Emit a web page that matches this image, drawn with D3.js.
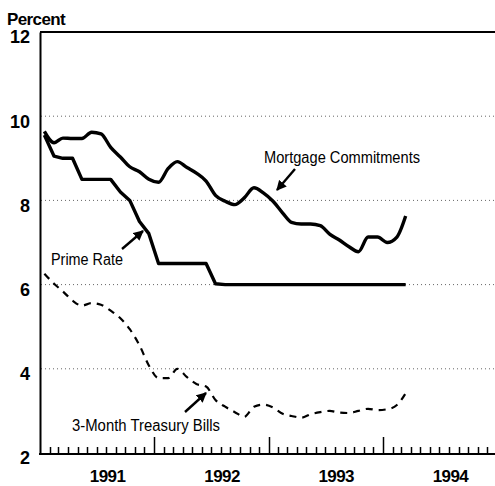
<!DOCTYPE html>
<html>
<head>
<meta charset="utf-8">
<script src="https://cdn.jsdelivr.net/npm/d3@7"></script>
<style>
  html, body { margin: 0; padding: 0; background: #fff; }
  svg { display: block; }
  text { font-family: "Liberation Sans", Arial, Helvetica, sans-serif; fill: #000; }
</style>
</head>
<body>
<svg id="chart" width="495" height="486"></svg>
<script>
// ---- Data (monthly, Jan 1991 – Mar 1994) ----
const startYear = 1991, startMonth = 0;
const mortgage = [9.64, 9.37, 9.48, 9.47, 9.47, 9.62, 9.58, 9.26, 9.03, 8.80, 8.68, 8.50,
                  8.43, 8.76, 8.92, 8.78, 8.65, 8.46, 8.12, 7.98, 7.90, 8.06, 8.30, 8.18,
                  7.98, 7.70, 7.48, 7.44, 7.44, 7.40, 7.20, 7.06, 6.90, 6.78, 7.13, 7.13,
                  7.00, 7.13, 7.63];
const prime    = [9.55, 9.05, 9.00, 9.00, 8.50, 8.50, 8.50, 8.50, 8.20, 8.00, 7.50, 7.21,
                  6.50, 6.50, 6.50, 6.50, 6.50, 6.50, 6.02, 6.00, 6.00, 6.00, 6.00, 6.00,
                  6.00, 6.00, 6.00, 6.00, 6.00, 6.00, 6.00, 6.00, 6.00, 6.00, 6.00, 6.00,
                  6.00, 6.00, 6.00];
const tbill    = [6.26, 6.02, 5.84, 5.62, 5.50, 5.56, 5.52, 5.38, 5.20, 4.94, 4.56, 4.08,
                  3.78, 3.78, 4.00, 3.80, 3.64, 3.58, 3.26, 3.10, 2.97, 2.86, 3.10, 3.15,
                  3.08, 2.93, 2.88, 2.84, 2.92, 2.97, 3.00, 2.96, 2.95, 3.00, 3.05, 3.02,
                  3.04, 3.14, 3.42];
const yTicks = [2, 4, 6, 8, 10, 12];
const yearLabels = ["1991", "1992", "1993", "1994"];
const seriesLabels = ["Mortgage Commitments", "Prime Rate", "3-Month Treasury Bills"];

// ---- Setup ----
const svg = d3.select("#chart");
const x = d3.scaleTime()
  .domain([new Date(1991, 0, 1), new Date(1995, 0, 1)])
  .range([40, 497]);
const y = d3.scaleLinear().domain([2, 12]).range([453, 32]);

const monthDate = i => new Date(startYear, startMonth + i, 15);

// Gridlines
svg.append("g").selectAll("line")
  .data(yTicks.filter(v => v > 2 && v < 12))
  .join("line")
  .attr("x1", 41).attr("x2", 495)
  .attr("y1", d => y(d)).attr("y2", d => y(d))
  .attr("stroke", "#666").attr("stroke-width", 1)
  .attr("stroke-dasharray", "1,3");

// Top border
svg.append("line")
  .attr("x1", 40).attr("x2", 495)
  .attr("y1", y(12)).attr("y2", y(12))
  .attr("stroke", "#000").attr("stroke-width", 2);

// Y axis
const yAxis = svg.append("g")
  .attr("transform", "translate(40,0)")
  .call(d3.axisLeft(y).tickValues(yTicks).tickSize(0).tickPadding(10).tickFormat(d3.format("d")));
yAxis.select(".domain").attr("stroke", "#000").attr("stroke-width", 2);
yAxis.selectAll("text")
  .attr("font-size", 18).attr("font-weight", "bold")
  .attr("font-family", "Liberation Sans, Arial, sans-serif")
  .attr("dy", "0.6em");

// X axis line
const axisY = 454;
svg.append("line")
  .attr("x1", 39).attr("x2", 495)
  .attr("y1", axisY).attr("y2", axisY)
  .attr("stroke", "#000").attr("stroke-width", 2);

// Monthly ticks pointing upward, taller at each January
const monthTicks = d3.timeMonth.range(new Date(1991, 1, 1), new Date(1995, 0, 1));
svg.append("g").attr("class", "xticks").selectAll("path")
  .data(monthTicks)
  .join("path")
  .attr("d", d => {
    const px = Math.round(x(d)) + 0.5;
    const h = d.getMonth() === 0 ? 17 : 7;
    return `M${px},${axisY}V${axisY - h}`;
  })
  .attr("fill", "none")
  .attr("stroke", "#000").attr("stroke-width", 1.5);

// Year labels
svg.append("g").selectAll("text")
  .data(yearLabels)
  .join("text")
  .attr("x", d => x(new Date(+d, 7, 5)))
  .attr("y", 482)
  .attr("text-anchor", "middle")
  .attr("font-size", 17).attr("font-weight", "bold")
  .attr("letter-spacing", -0.6)
  .text(d => d);

// "Percent"
svg.append("text")
  .attr("x", 7).attr("y", 25)
  .attr("font-size", 17).attr("font-weight", "bold")
  .attr("letter-spacing", -0.6)
  .text("Percent");

// Lines
const line = curve => d3.line()
  .x((d, i) => x(monthDate(i)))
  .y(d => y(d))
  .curve(curve);

svg.append("path").datum(mortgage)
  .attr("d", line(d3.curveMonotoneX))
  .attr("fill", "none").attr("stroke", "#000").attr("stroke-width", 3.4)
  .attr("stroke-linejoin", "round");

svg.append("path").datum(prime)
  .attr("d", line(d3.curveLinear))
  .attr("fill", "none").attr("stroke", "#000").attr("stroke-width", 3.4)
  .attr("stroke-linejoin", "round");

svg.append("path").datum(tbill)
  .attr("d", line(d3.curveMonotoneX))
  .attr("fill", "none").attr("stroke", "#000").attr("stroke-width", 2.2)
  .attr("stroke-dasharray", "7,6");

// Annotations
const defs = svg.append("defs");
defs.append("marker")
  .attr("id", "ah").attr("viewBox", "0 0 10 10")
  .attr("refX", 9).attr("refY", 5)
  .attr("markerWidth", 4.2).attr("markerHeight", 4.2)
  .attr("markerUnits", "strokeWidth")
  .attr("orient", "auto")
  .append("path").attr("d", "M0,0 L10,5 L0,10 Z").attr("fill", "#000");

const labels = [
  { text: seriesLabels[0], x: 264, y: 163, w: 156, ax1: 295, ay1: 169, ax2: 277, ay2: 190 },
  { text: seriesLabels[1], x: 51, y: 265, w: 72, ax1: 122, ay1: 249, ax2: 143, ay2: 231 },
  { text: seriesLabels[2], x: 72, y: 431, w: 148, ax1: 185, ay1: 412, ax2: 206, ay2: 393 }
];
svg.append("g").selectAll("text")
  .data(labels).join("text")
  .attr("x", d => d.x).attr("y", d => d.y)
  .attr("font-size", 16)
  .attr("textLength", d => d.w).attr("lengthAdjust", "spacingAndGlyphs")
  .text(d => d.text);
svg.append("g").selectAll("line")
  .data(labels).join("line")
  .attr("x1", d => d.ax1).attr("y1", d => d.ay1)
  .attr("x2", d => d.ax2).attr("y2", d => d.ay2)
  .attr("stroke", "#000").attr("stroke-width", 2.4)
  .attr("marker-end", "url(#ah)");
</script>
</body>
</html>
